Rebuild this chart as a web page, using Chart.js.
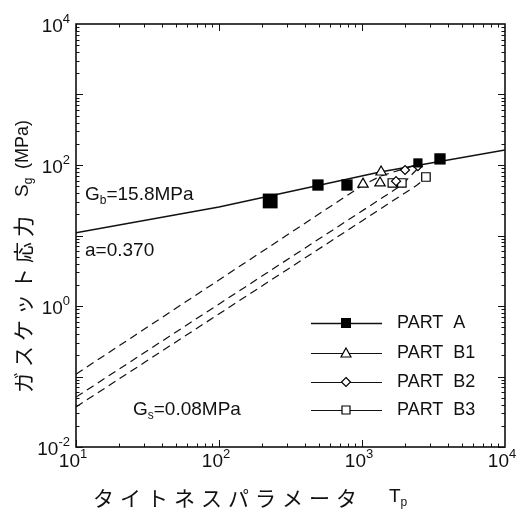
<!DOCTYPE html>
<html>
<head>
<meta charset="utf-8">
<script src="https://cdn.jsdelivr.net/npm/chart.js@4.4.0/dist/chart.umd.min.js"></script>
<style>
  body { margin: 0; background: #fff; }
  #wrap { width: 525px; height: 519px; position: relative; }
</style>
</head>
<body>
<div id="wrap"><canvas id="myChart"></canvas></div>
<script>
// PART A fitted line (Gb = 15.8 MPa, a = 0.370)
const fitT = [10, 100, 1337, 10000];
const fitS = [10.9, 25.4, 79.6, 163];

// PART A measured points
const partAT = [228, 492, 785, 2460, 3510];
const partAS = [30.9, 52, 52, 107, 122];

// PART B1 / B2 / B3 curves (dashed) and markers
const b1LineT = [10, 1016, 1360, 2300];
const b1LineS = [0.108, 52, 70, 98];
const b1T = [1016, 1337, 1360];
const b1S = [53.6, 55.6, 79.6];

const b2LineT = [10, 1900, 2460];
const b2LineS = [0.051, 52, 90];
const b2T = [1730, 2000, 2460];
const b2S = [59, 85, 96];

const b3LineT = [10, 2430, 2800];
const b3LineS = [0.037, 52, 66];
const b3T = [1630, 1900, 2800];
const b3S = [55.6, 55.6, 67.6];

const legendLabels = ["PART  A", "PART  B1", "PART  B2", "PART  B3"];

// axis decades shown
const xTickVals = [10, 100, 1000, 10000];
const xTickExp = ["1", "2", "3", "4"];
const yTickVals = [0.01, 1, 100, 10000];
const yTickExp = ["-2", "0", "2", "4"];

const xTitle = "タイトネスパラメータ";
const yTitle = "ガスケット応力";

function pts(xs, ys) {
  return xs.map((x, i) => ({ x: x, y: ys[i] }));
}

const SANS = '"Liberation Sans", Arial, sans-serif';
const JP = '"Noto Sans CJK JP", sans-serif';

function drawPow(ctx, exp, x, y, align) {
  ctx.font = "19px " + SANS;
  const w1 = ctx.measureText("10").width;
  ctx.font = "13px " + SANS;
  const w2 = ctx.measureText(exp).width;
  let start = x - (w1 + w2) / 2;
  if (align === "right") start = x - (w1 + w2);
  ctx.textAlign = "left";
  ctx.textBaseline = "middle";
  ctx.font = "19px " + SANS;
  ctx.fillText("10", start, y);
  ctx.font = "13px " + SANS;
  ctx.fillText(exp, start + w1, y - 8);
}

function drawSub(ctx, main, sub, rest, x, y, size) {
  ctx.textAlign = "left";
  ctx.textBaseline = "middle";
  ctx.font = size + "px " + SANS;
  ctx.fillText(main, x, y);
  let cx = x + ctx.measureText(main).width;
  ctx.font = Math.round(size * 0.62) + "px " + SANS;
  ctx.fillText(sub, cx, y + 6);
  cx += ctx.measureText(sub).width;
  ctx.font = size + "px " + SANS;
  ctx.fillText(rest, cx, y);
}

function drawMarker(ctx, kind, x, y) {
  ctx.save();
  ctx.lineWidth = 1.2;
  ctx.strokeStyle = "#000";
  ctx.beginPath();
  if (kind === "A") {
    ctx.fillStyle = "#000";
    ctx.fillRect(x - 5, y - 5, 10, 10);
  } else if (kind === "B1") {
    ctx.fillStyle = "#fff";
    ctx.moveTo(x, y - 5);
    ctx.lineTo(x + 5, y + 4);
    ctx.lineTo(x - 5, y + 4);
    ctx.closePath();
    ctx.fill();
    ctx.stroke();
  } else if (kind === "B2") {
    ctx.fillStyle = "#fff";
    ctx.moveTo(x, y - 4.5);
    ctx.lineTo(x + 4.5, y);
    ctx.lineTo(x, y + 4.5);
    ctx.lineTo(x - 4.5, y);
    ctx.closePath();
    ctx.fill();
    ctx.stroke();
  } else {
    ctx.fillStyle = "#fff";
    ctx.rect(x - 4, y - 4, 8, 8);
    ctx.fill();
    ctx.stroke();
  }
  ctx.restore();
}

const decorPlugin = {
  id: "decor",
  afterDraw(chart) {
    const ctx = chart.ctx;
    const a = chart.chartArea;
    const xs = chart.scales.x;
    const ys = chart.scales.y;
    ctx.save();
    ctx.fillStyle = "#111";
    ctx.strokeStyle = "#111";

    // inward ticks on all four sides
    ctx.lineWidth = 1;
    ctx.beginPath();
    for (let d = 1; d < 4; d++) {
      for (let m = 1; m < 10; m++) {
        const px = Math.round(xs.getPixelForValue(m * Math.pow(10, d))) + 0.5;
        const len = m === 1 ? 7 : 3.5;
        ctx.moveTo(px, a.bottom); ctx.lineTo(px, a.bottom - len);
        ctx.moveTo(px, a.top); ctx.lineTo(px, a.top + len);
      }
    }
    for (let d = -2; d < 4; d++) {
      for (let m = 1; m < 10; m++) {
        const py = Math.round(ys.getPixelForValue(m * Math.pow(10, d))) + 0.5;
        const len = m === 1 ? 7 : 3.5;
        ctx.moveTo(a.left, py); ctx.lineTo(a.left + len, py);
        ctx.moveTo(a.right, py); ctx.lineTo(a.right - len, py);
      }
    }
    ctx.stroke();

    // frame
    ctx.lineWidth = 1.6;
    ctx.strokeRect(a.left, a.top, a.right - a.left, a.bottom - a.top);

    // tick labels
    xTickVals.forEach((v, i) => {
      drawPow(ctx, xTickExp[i], xs.getPixelForValue(v) - 3, a.bottom + 15, "center");
    });
    yTickVals.forEach((v, i) => {
      drawPow(ctx, yTickExp[i], a.left - 6, ys.getPixelForValue(v) + 3, "right");
    });

    // x title
    ctx.textAlign = "left";
    ctx.textBaseline = "middle";
    ctx.font = "21px " + JP;
    ctx.letterSpacing = "6px";
    ctx.fillText(xTitle, 93, 498);
    ctx.letterSpacing = "0px";
    drawSub(ctx, "T", "p", "", 389, 497, 19);

    // y title (rotated)
    ctx.save();
    ctx.translate(23, 393);
    ctx.rotate(-Math.PI / 2);
    ctx.textAlign = "left";
    ctx.textBaseline = "middle";
    ctx.font = "21px " + JP;
    ctx.letterSpacing = "5px";
    ctx.fillText(yTitle, 0, 0);
    ctx.letterSpacing = "0px";
    drawSub(ctx, "S", "g", "", 196, 0, 19);
    ctx.font = "18px " + SANS;
    ctx.fillText("(MPa)", 224, 0);
    ctx.restore();

    // annotations
    drawSub(ctx, "G", "b", "=15.8MPa", 85, 195, 19);
    ctx.font = "19px " + SANS;
    ctx.textBaseline = "middle";
    ctx.fillText("a=0.370", 85, 251);
    drawSub(ctx, "G", "s", "=0.08MPa", 133, 410, 19);

    // legend
    const kinds = ["A", "B1", "B2", "B3"];
    const rowY = [323, 353, 382, 410];
    legendLabels.forEach((lab, i) => {
      const y = rowY[i];
      ctx.beginPath();
      ctx.lineWidth = i === 0 ? 1.6 : 1;
      ctx.moveTo(311, y + 0.5);
      ctx.lineTo(382, y + 0.5);
      ctx.stroke();
      drawMarker(ctx, kinds[i], 346, y);
      ctx.fillStyle = "#111";
      ctx.font = "18px " + SANS;
      ctx.textAlign = "left";
      ctx.textBaseline = "middle";
      ctx.fillText(lab, 397, y);
    });
    ctx.restore();
  }
};

const dashStyle = {
  showLine: true,
  borderColor: "#111",
  borderWidth: 1.2,
  borderDash: [8, 5],
  pointRadius: 0,
  order: 2
};

const ctx = document.getElementById("myChart").getContext("2d");
const myChart = new Chart(ctx, {
  type: "scatter",
  data: {
    datasets: [
      {
        label: "PART A",
        data: pts(partAT, partAS),
        pointStyle: "rect",
        pointRadius: [10.5, 8, 8, 6.5, 8],
        backgroundColor: "#000",
        borderColor: "#000",
        borderWidth: 0,
        order: 0
      },
      {
        label: "PART B1",
        data: pts(b1T, b1S),
        pointStyle: "triangle",
        pointRadius: 6,
        backgroundColor: "#fff",
        borderColor: "#000",
        borderWidth: 1.2,
        order: 1
      },
      {
        label: "PART B2",
        data: pts(b2T, b2S),
        pointStyle: "rectRot",
        pointRadius: 4.5,
        backgroundColor: "#fff",
        borderColor: "#000",
        borderWidth: 1.2,
        order: 1
      },
      {
        label: "PART B3",
        data: pts(b3T, b3S),
        pointStyle: "rect",
        pointRadius: 6,
        backgroundColor: "#fff",
        borderColor: "#000",
        borderWidth: 1.2,
        order: 1
      },
      {
        label: "fit",
        data: pts(fitT, fitS),
        showLine: true,
        borderColor: "#111",
        borderWidth: 1.5,
        pointRadius: 0,
        order: 3
      },
      Object.assign({ label: "B1 curve", data: pts(b1LineT, b1LineS) }, dashStyle),
      Object.assign({ label: "B2 curve", data: pts(b2LineT, b2LineS) }, dashStyle),
      Object.assign({ label: "B3 curve", data: pts(b3LineT, b3LineS) }, dashStyle)
    ]
  },
  options: {
    responsive: true,
    maintainAspectRatio: false,
    animation: false,
    layout: { padding: { left: 76, right: 20, top: 24, bottom: 72 } },
    plugins: {
      legend: { display: false },
      tooltip: { enabled: false }
    },
    scales: {
      x: {
        type: "logarithmic",
        min: 10,
        max: 10000,
        ticks: { display: false },
        grid: { display: false },
        border: { display: false },
        afterFit: (s) => { s.height = 0; }
      },
      y: {
        type: "logarithmic",
        min: 0.01,
        max: 10000,
        ticks: { display: false },
        grid: { display: false },
        border: { display: false },
        afterFit: (s) => { s.width = 0; }
      }
    }
  },
  plugins: [decorPlugin]
});
</script>
</body>
</html>
